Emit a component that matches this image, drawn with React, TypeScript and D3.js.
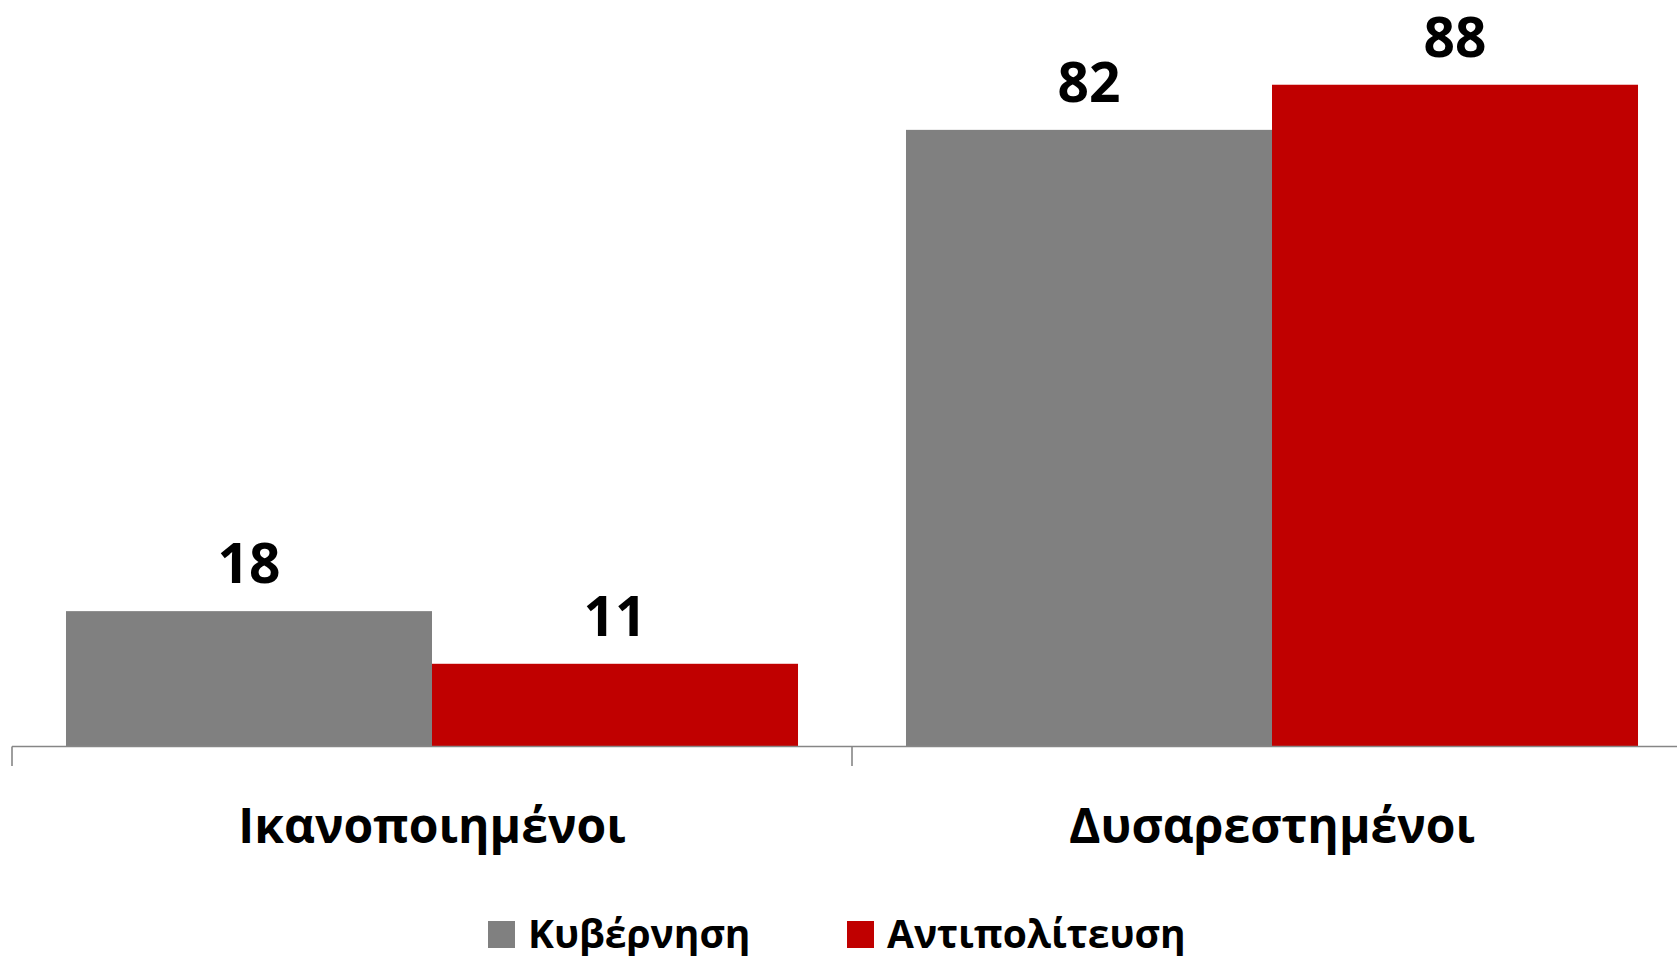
import React from "react";
import * as d3 from "d3";

const categories = ["Ικανοποιημένοι", "Δυσαρεστημένοι"];
const seriesNames = ["Κυβέρνηση", "Αντιπολίτευση"];
const governmentValues = [18, 82];
const oppositionValues = [11, 88];
const seriesColors = ["#808080", "#C00000"];

const W = 1677;
const H = 956;
const FONT = "'Open Sans', 'Noto Sans', 'DejaVu Sans', sans-serif";

export default function App() {
  const axisY = 746.5;
  const x0 = d3.scaleBand<string>().domain(categories).range([12, 1692]).paddingInner(0).paddingOuter(0);
  const x1 = d3
    .scaleBand<string>()
    .domain(seriesNames)
    .range([0, x0.bandwidth()])
    .paddingInner(0)
    .paddingOuter(0.1475);
  const y = d3.scaleLinear().domain([0, 100]).range([axisY, axisY - 752]);
  const values = [governmentValues, oppositionValues];

  return (
    <svg
      width={W}
      height={H}
      style={{ position: "absolute", left: 0, top: 0, background: "#fff" }}
      fontFamily={FONT}
    >
      {categories.map((c, ci) => (
        <g key={c} transform={`translate(${x0(c)},0)`}>
          {seriesNames.map((s, si) => {
            const v = values[si][ci];
            const bx = x1(s)!;
            return (
              <g key={s}>
                <rect x={bx} y={y(v)} width={x1.bandwidth()} height={axisY - y(v)} fill={seriesColors[si]} />
                <text
                  x={bx + x1.bandwidth() / 2}
                  y={y(v) - 28}
                  textAnchor="middle"
                  fontWeight="bold"
                  fontSize={55}
                  fill="#000"
                >
                  {v}
                </text>
              </g>
            );
          })}
          <text
            x={x0.bandwidth() / 2}
            y={843}
            textAnchor="middle"
            fontWeight="bold"
            fontSize={48}
            fill="#000"
          >
            {c}
          </text>
        </g>
      ))}
      <line x1={12} x2={W} y1={axisY} y2={axisY} stroke="#868686" strokeWidth={1.6} />
      {categories.map((c) => (
        <line key={c} x1={x0(c)} x2={x0(c)} y1={axisY} y2={766} stroke="#868686" strokeWidth={1.6} />
      ))}
      {seriesNames.map((s, si) => {
        const lx = [488, 847][si];
        return (
          <g key={s}>
            <rect x={lx} y={921} width={27} height={27} fill={seriesColors[si]} />
            <text x={lx + 40} y={948} fontWeight="bold" fontSize={39} fill="#000">
              {s}
            </text>
          </g>
        );
      })}
    </svg>
  );
}
